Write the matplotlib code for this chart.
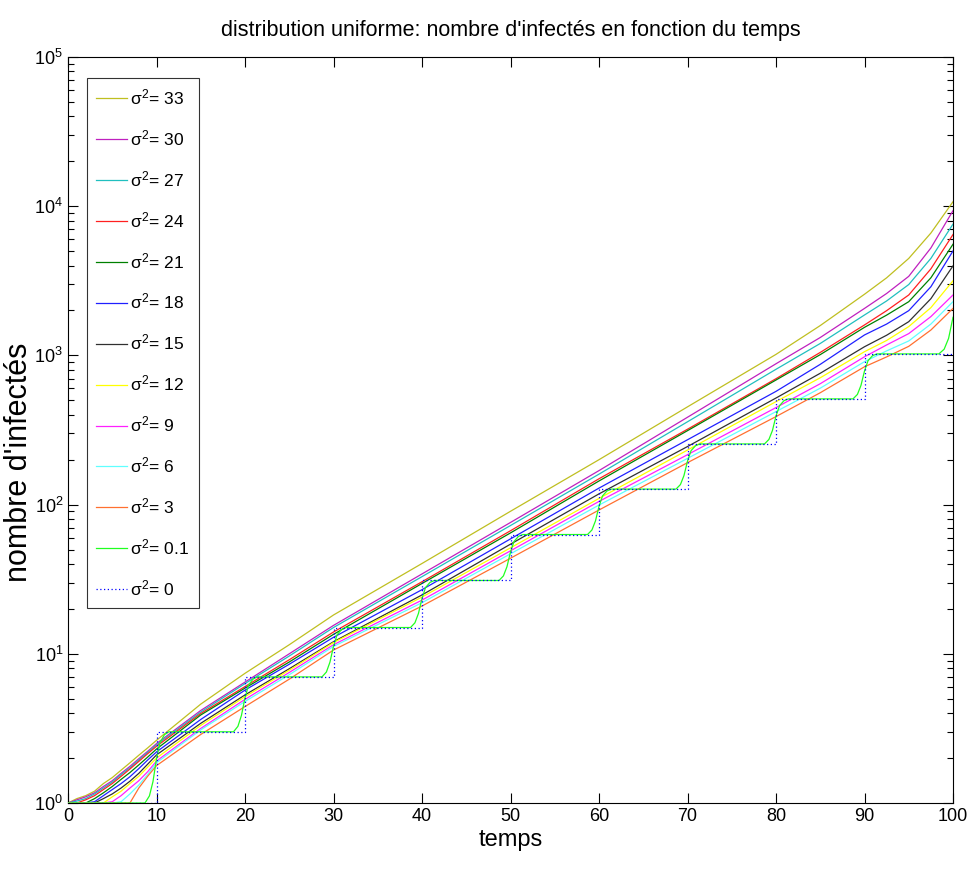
import matplotlib
matplotlib.use("Agg")
import matplotlib.pyplot as plt
from matplotlib.ticker import LogLocator, FixedLocator

# ---- data ----
t = [0, 1, 2, 3, 4, 5, 6, 7, 8, 9, 10, 15, 20, 25, 30, 40, 50, 60, 70, 80, 85, 90, 92.5, 95, 97.5, 100]

s33 = [1.0, 1.07, 1.12, 1.20, 1.35, 1.48, 1.66, 1.86, 2.09, 2.34, 2.63, 4.6, 7.4, 11.5, 18.2, 40.3, 90.2, 200, 452, 1016, 1585, 2570, 3311, 4467, 6607, 10715]
s30 = [1.0, 1.05, 1.10, 1.17, 1.29, 1.41, 1.58, 1.76, 1.98, 2.22, 2.50, 4.17, 6.46, 10.0, 15.5, 34.3, 75.9, 169, 385, 879, 1318, 2065, 2600, 3388, 5248, 9333]
s27 = [1.0, 1.03, 1.07, 1.15, 1.26, 1.38, 1.55, 1.72, 1.94, 2.18, 2.45, 4.07, 6.31, 9.66, 15.0, 32.9, 72.4, 160, 359, 807, 1202, 1866, 2317, 2985, 4467, 7586]
s24 = [1.0, 1.0, 1.05, 1.12, 1.23, 1.35, 1.51, 1.69, 1.90, 2.14, 2.40, 3.98, 6.03, 9.12, 14.0, 30.4, 66.8, 149, 320, 698, 1047, 1600, 1995, 2541, 3802, 6457]
s21 = [1, 1, 1, 1.07, 1.17, 1.29, 1.44, 1.60, 1.80, 2.03, 2.30, 3.89, 5.89, 8.81, 13.5, 29.6, 64.6, 144, 313, 684, 1012, 1542, 1862, 2291, 3311, 5559]
s18 = [1, 1, 1, 1.02, 1.12, 1.23, 1.35, 1.50, 1.70, 1.94, 2.20, 3.63, 5.71, 8.51, 12.9, 26.9, 58.9, 129, 272, 574, 871, 1371, 1622, 1995, 2884, 5012]
s15 = [1, 1, 1, 1, 1.07, 1.15, 1.26, 1.40, 1.58, 1.82, 2.10, 3.42, 5.30, 7.94, 12.05, 24.8, 54.3, 118, 245, 518, 759, 1143, 1365, 1683, 2399, 3981]
s12 = [1, 1, 1, 1, 1, 1.10, 1.20, 1.35, 1.51, 1.74, 2.0, 3.31, 5.16, 7.76, 11.9, 24.0, 51.3, 110, 232, 490, 708, 1059, 1259, 1560, 2089, 3162]
s9 = [1, 1, 1, 1, 1, 1.02, 1.12, 1.26, 1.41, 1.62, 1.91, 3.16, 4.95, 7.50, 11.5, 22.9, 49.0, 105, 216, 447, 646, 979, 1175, 1400, 1820, 2541]
s6 = [1, 1, 1, 1, 1, 1, 1.02, 1.15, 1.32, 1.55, 1.86, 3.09, 4.79, 7.24, 11.2, 22.0, 46.8, 99.3, 204, 420, 603, 908, 1072, 1250, 1622, 2291]
s3 = [1, 1, 1, 1, 1, 1, 1, 1, 1.26, 1.51, 1.78, 2.88, 4.43, 6.76, 10.6, 20.9, 43.7, 92.0, 191, 389, 562, 839, 977, 1150, 1479, 2065]

# sigma^2 = 0.1 : smoothed staircase (knots)
t01 = [0, 8.7, 9.2, 9.6, 10.0, 10.4, 10.9, 11.4,
       18.7, 19.2, 19.6, 20.0, 20.4, 20.9, 21.4,
       28.7, 29.2, 29.6, 30.0, 30.4, 30.9, 31.4,
       38.7, 39.2, 39.6, 40.0, 40.4, 40.9, 41.4,
       48.7, 49.2, 49.6, 50.0, 50.4, 50.9, 51.4,
       58.7, 59.2, 59.6, 60.0, 60.4, 60.9, 61.4,
       68.7, 69.2, 69.6, 70.0, 70.4, 70.9, 71.4,
       78.7, 79.2, 79.6, 80.0, 80.4, 80.9, 81.4,
       88.7, 89.2, 89.6, 90.0, 90.4, 90.9, 91.4,
       98.4, 99.0, 99.5, 100]
v01 = [1, 1, 1.116, 1.39, 1.976, 2.545, 2.870, 3,
       3, 3.265, 3.868, 5.072, 6.161, 6.767, 7,
       7, 7.554, 8.798, 11.23, 13.38, 14.55, 15,
       15, 16.13, 18.65, 23.53, 27.80, 30.11, 31,
       31, 33.28, 38.35, 48.12, 56.64, 61.24, 63,
       63, 67.57, 77.74, 97.30, 114.3, 123.5, 127,
       127, 136.2, 156.5, 195.7, 229.7, 248.0, 255,
       255, 273.4, 314.1, 392.4, 460.4, 497.0, 511,
       511, 547.7, 629.3, 785.8, 921.8, 994.9, 1023,
       1023, 1100, 1300, 1800]

# sigma^2 = 0 : exact staircase
t0 = [0, 10, 20, 30, 40, 50, 60, 70, 80, 90, 100]
v0 = [1, 3, 7, 15, 31, 63, 127, 255, 511, 1023, 1023]

labels = ["33", "30", "27", "24", "21", "18", "15", "12", "9", "6", "3", "0.1", "0"]
colors = ["#bfbf20", "#bf20bf", "#20bfbf", "#ff2020", "#008000", "#2020ff",
          "#303030", "#ffff00", "#ff20ff", "#60ffff", "#ff7030", "#20ff20", "#0000ff"]

plt.rcParams["font.family"] = ["Liberation Sans", "DejaVu Sans"]
plt.rcParams["mathtext.fontset"] = "custom"
plt.rcParams["mathtext.rm"] = "Liberation Sans"
plt.rcParams["mathtext.it"] = "Liberation Sans"

fig = plt.figure(figsize=(9.71, 8.71), dpi=100)
ax = fig.add_axes([68/971, 1-803/871, (953-68)/971, (803-57)/871])

series = [s33, s30, s27, s24, s21, s18, s15, s12, s9, s6, s3]
for i, s in enumerate(series):
    ax.plot(t, s, color=colors[i], lw=0.9, label=r"$\sigma^{2}$= " + labels[i], zorder=2+i)
ax.plot(t01, v01, color=colors[11], lw=0.9, label=r"$\sigma^{2}$= " + labels[11], zorder=14)
ax.plot(t0, v0, color=colors[12], lw=0.9, ls=(0, (1, 2)), drawstyle="steps-post",
        label=r"$\sigma^{2}$= " + labels[12], zorder=15)

ax.set_yscale("log")
ax.set_xlim(0, 100)
ax.set_ylim(1, 1e5)
ax.xaxis.set_major_locator(FixedLocator(list(range(0, 101, 10))))
ax.yaxis.set_major_locator(LogLocator(base=10, numticks=10))
ax.yaxis.set_minor_locator(LogLocator(base=10, subs=range(2, 10), numticks=20))
ax.tick_params(which="both", direction="in", top=True, right=True, labelsize=13)
ax.tick_params(which="major", length=7, width=0.8)
ax.tick_params(which="minor", length=4, width=0.8)
for sp in ax.spines.values():
    sp.set_linewidth(0.8)

ax.set_title("distribution uniforme: nombre d'infectés en fonction du temps", fontsize=15.5, pad=15)
ax.set_xlabel("temps", fontsize=17, labelpad=3)
ax.set_ylabel("nombre d'infectés", fontsize=22)
ax.yaxis.set_label_coords(-0.038, 0.457)

leg = ax.legend(loc="upper left", bbox_to_anchor=(0.021, 0.972), borderaxespad=0,
                fontsize=12.5, frameon=True, fancybox=False, edgecolor="black",
                handlelength=1.8, handletextpad=0.15, labelspacing=1.21, borderpad=0.55)
leg.get_frame().set_linewidth(0.8)

fig.savefig("out.png", dpi=100)
